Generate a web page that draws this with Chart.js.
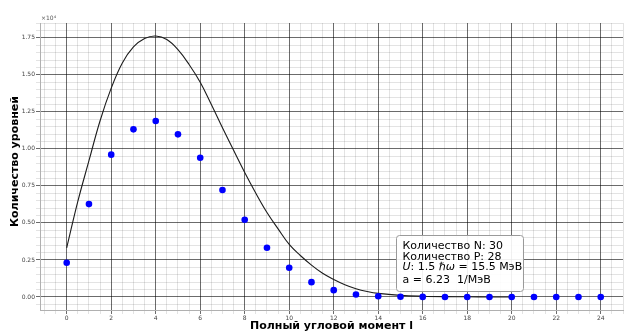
<!DOCTYPE html>
<html>
<head>
<meta charset="utf-8">
<script src="https://cdn.jsdelivr.net/npm/chart.js@4.4.0/dist/chart.umd.min.js"></script>
<style>
    html, body { margin: 0; padding: 0; background: #fff; }
    canvas { display: block; }
</style>
</head>
<body>
<canvas id="levelsChart" width="627" height="331"></canvas>
<script>
// Total angular momentum l of the counted levels
const spins = [0, 1, 2, 3, 4, 5, 6, 7, 8, 9, 10, 11, 12, 13, 14, 15, 16, 17, 18, 19, 20, 21, 22, 23, 24];
// Number of levels for each l, in units of 10^4
const levelCounts = [0.231, 0.627, 0.961, 1.132, 1.188, 1.098, 0.940, 0.722, 0.521, 0.332,
                     0.197, 0.100, 0.046, 0.017, 0.005, 0.0015, 0.0005, 0.0002, 0.0001, 0,
                     0, 0, 0, 0, 0];

// Model spin distribution (solid curve), units of 10^4
const curveSpins = [0, 0.5, 1, 1.5, 2, 2.5, 3, 3.5, 4, 4.5, 5, 5.5, 6, 6.5, 7, 7.5, 8, 8.5, 9, 9.5,
                    10, 10.5, 11, 11.5, 12, 12.5, 13, 13.5, 14, 15, 16, 17, 18, 19, 20];
const curveValues = [0.332, 0.645, 0.920, 1.190, 1.410, 1.580, 1.688, 1.745, 1.762, 1.738,
                     1.670, 1.570, 1.450, 1.300, 1.143, 0.990, 0.840, 0.700, 0.570, 0.460,
                     0.355, 0.280, 0.215, 0.160, 0.118, 0.083, 0.056, 0.037, 0.024, 0.011,
                     0.005, 0.002, 0.001, 0, 0];

// Info box lines: [text, italic]
const infoLines = [
    [['Количество N: 30', false]],
    [['Количество P: 28', false]],
    [['U', true], [': 1.5 ', false], ['ℏω', true], [' = 15.5 МэВ', false]],
    [['a = 6.23  1/МэВ', false]]
];

const X_MIN = -1.2, X_MAX = 25;
const Y_MIN = -0.088, Y_MAX = 1.85;
const X_MAJOR = 2, X_MINOR = 0.5;
const Y_MAJOR = 0.25, Y_MINOR = 0.05;

// translucent so crossing minor lines don't cut through the major ones
const MAJOR_COLOR = 'rgba(0,0,0,0.58)';
const MINOR_COLOR = 'rgba(0,0,0,0.11)';
const FONT = '"DejaVu Sans", sans-serif';

function isMultiple(v, step) {
    return Math.abs(Math.round(v / step) * step - v) < 1e-6;
}

function stepTicks(min, max, step) {
    const ticks = [];
    const first = Math.ceil(min / step - 1e-9);
    const last = Math.floor(max / step + 1e-9);
    for (let k = first; k <= last; k++) {
        ticks.push({ value: Math.round(k * step * 1e6) / 1e6 });
    }
    return ticks;
}

const gridColor = (step) => (ctx) => isMultiple(ctx.tick.value, step) ? MAJOR_COLOR : MINOR_COLOR;

// Axis titles, the x10^4 offset text and the info box
const annotations = {
    id: 'annotations',
    afterDraw(chart) {
        const c = chart.ctx;
        const area = chart.chartArea;
        c.save();

        c.fillStyle = '#555';
        c.font = '6px ' + FONT;
        c.textAlign = 'left';
        c.textBaseline = 'alphabetic';
        c.fillText('×10⁴', area.left + 1, 20);

        c.fillStyle = '#000';
        c.font = 'bold 11px ' + FONT;
        c.textAlign = 'center';
        c.textBaseline = 'middle';
        c.fillText('Полный угловой момент l', (area.left + area.right) / 2, 326);

        c.save();
        c.translate(15, (area.top + area.bottom) / 2 - 5);
        c.rotate(-Math.PI / 2);
        c.fillText('Количество уровней', 0, 0);
        c.restore();

        // info box
        const bx = 396, by = 235.5, bw = 127, bh = 56;
        c.beginPath();
        c.roundRect(bx + 0.5, by, bw, bh, 3);
        c.fillStyle = 'rgba(255,255,255,0.9)';
        c.fill();
        c.strokeStyle = '#9a9a9a';
        c.lineWidth = 1;
        c.stroke();

        const baselines = [248.5, 259.5, 270, 283];
        c.fillStyle = '#000';
        c.textAlign = 'left';
        c.textBaseline = 'alphabetic';
        infoLines.forEach((parts, i) => {
            let x = 402.5;
            parts.forEach(([text, italic]) => {
                c.font = (italic ? 'oblique ' : '') + '11px ' + FONT;
                c.fillText(text, x, baselines[i]);
                x += c.measureText(text).width;
            });
        });
        c.restore();
    }
};

new Chart(document.getElementById('levelsChart'), {
    data: {
        datasets: [
            {
                type: 'scatter',
                label: 'levels',
                data: spins.map((l, i) => ({ x: l, y: levelCounts[i] })),
                backgroundColor: '#0000ff',
                borderColor: '#0000ff',
                pointRadius: 3.3,
                pointBorderWidth: 0,
                order: 1
            },
            {
                type: 'line',
                label: 'model',
                data: curveSpins.map((l, i) => ({ x: l, y: curveValues[i] })),
                borderColor: '#1c1c1c',
                borderWidth: 1.1,
                pointRadius: 0,
                tension: 0.4,
                fill: false,
                order: 2
            }
        ]
    },
    options: {
        responsive: false,
        animation: false,
        devicePixelRatio: 1,
        layout: { padding: { left: 0, top: 23, right: 2, bottom: 0 } },
        plugins: {
            legend: { display: false },
            tooltip: { enabled: false }
        },
        scales: {
            x: {
                type: 'linear',
                min: X_MIN,
                max: X_MAX,
                afterBuildTicks: (scale) => { scale.ticks = stepTicks(X_MIN, X_MAX, X_MINOR); },
                afterFit: (scale) => { scale.height = 21; },
                ticks: {
                    autoSkip: false,
                    maxRotation: 0,
                    padding: 1,
                    color: '#444',
                    font: { family: FONT, size: 6 },
                    callback: (v) => isMultiple(v, X_MAJOR) ? String(Math.round(v)) : ''
                },
                grid: {
                    color: gridColor(X_MAJOR),
                    tickColor: gridColor(X_MAJOR),
                    tickLength: 4,
                    lineWidth: 1
                },
                border: { display: true, color: '#b0b0b0' }
            },
            y: {
                type: 'linear',
                min: Y_MIN,
                max: Y_MAX,
                afterBuildTicks: (scale) => { scale.ticks = stepTicks(Y_MIN, Y_MAX, Y_MINOR); },
                afterFit: (scale) => { scale.width = 40; },
                ticks: {
                    autoSkip: false,
                    padding: 1,
                    color: '#444',
                    font: { family: FONT, size: 6 },
                    callback: (v) => isMultiple(v, Y_MAJOR) ? v.toFixed(2) : ''
                },
                grid: {
                    color: gridColor(Y_MAJOR),
                    tickColor: gridColor(Y_MAJOR),
                    tickLength: 4,
                    lineWidth: 1
                },
                border: { display: true, color: '#b0b0b0' }
            }
        }
    },
    plugins: [annotations]
});
</script>
</body>
</html>
